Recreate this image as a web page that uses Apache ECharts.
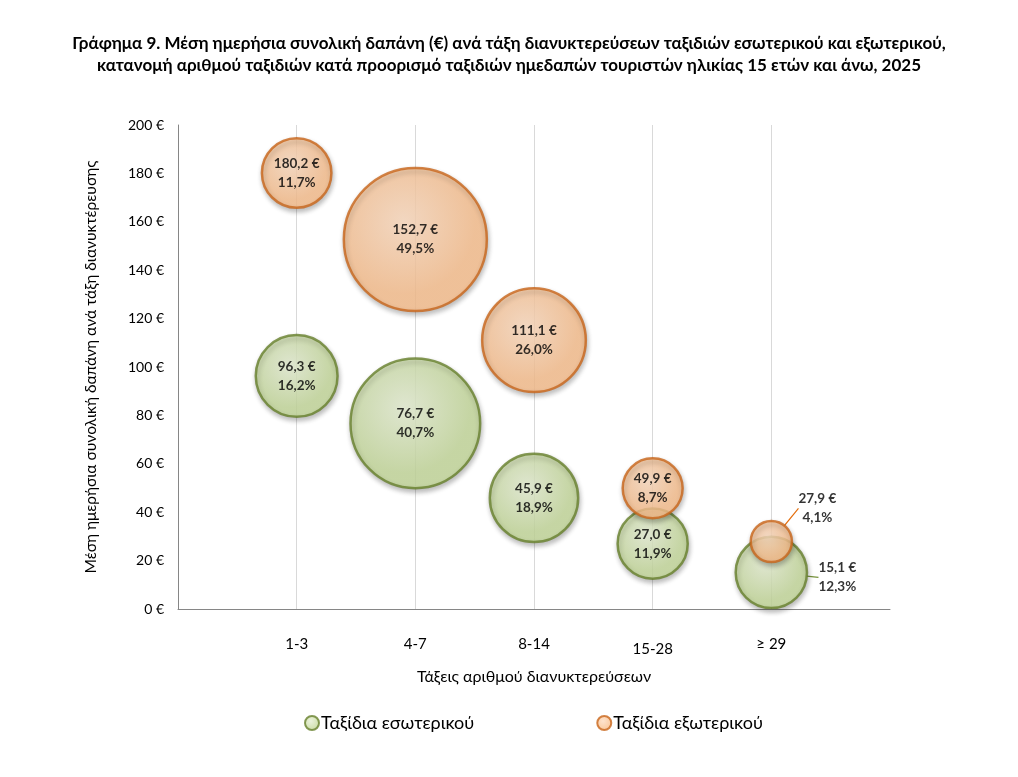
<!DOCTYPE html>
<html>
<head>
<meta charset="utf-8">
<script src="https://cdn.jsdelivr.net/npm/echarts@6/dist/echarts.min.js"></script>
<style>
  html, body { margin: 0; padding: 0; background: #fff; }
  #chart { width: 1018px; height: 777px; }
</style>
</head>
<body>
<div id="chart"></div>
<script>
// categories and values
var categories = ['1-3', '4-7', '8-14', '15-28', '≥ 29'];
var domesticSpend = [96.3, 76.7, 45.9, 27.0, 15.1];
var domesticShare = [16.2, 40.7, 18.9, 11.9, 12.3];
var abroadSpend = [180.2, 152.7, 111.1, 49.9, 27.9];
var abroadShare = [11.7, 49.5, 26.0, 8.7, 4.1];

var FONT = 'Lato';

function fmt(v) {
    return v.toFixed(1).replace('.', ',');
}

// bubble area follows the share
function bubbleSize(p) {
    return 143 * Math.sqrt(p / 49.5);
}

function buildData(spend, share, outside) {
    var out = [];
    for (var i = 0; i < spend.length; i++) {
        var item = { value: [i + 1, spend[i], share[i]] };
        if (outside[i]) {
            item.labelLine = { show: true };
        }
        out.push(item);
    }
    return out;
}

function fill(inner, outer) {
    return {
        type: 'radial', x: 0.42, y: 0.38, r: 0.62,
        colorStops: [{ offset: 0, color: inner }, { offset: 0.8, color: outer }, { offset: 1, color: outer }]
    };
}

// last bubble's label sits outside, with a leader line from the centre
function leader(dx, dy, bend) {
    return function (p) {
        if (p.dataIndex !== categories.length - 1) return;
        var cx = p.rect.x + p.rect.width / 2;
        var cy = p.rect.y + p.rect.height / 2;
        var lx = p.labelRect.x + dx - 3;
        var ly = p.labelRect.y + dy + p.labelRect.height / 2;
        return {
            dx: dx,
            dy: dy,
            labelLinePoints: bend
                ? [[cx, cy], [lx - 12, ly], [lx, ly]]
                : [[cx, cy], [lx - 1, ly + 1], [lx, ly + 1]]
        };
    };
}

var labelStyle = {
    show: true,
    position: 'inside',
    fontFamily: FONT,
    fontWeight: 'bold',
    fontSize: 13.5,
    lineHeight: 19,
    color: '#000',
    formatter: function (p) {
        return fmt(p.value[1]) + ' €\n' + fmt(p.value[2]) + '%';
    }
};

var xLabels = [''].concat(categories, ['']).map(function (c) {
    return c === '15-28' ? { value: c, textStyle: { padding: [5, 0, 0, 0] } } : c;
});

var chart = echarts.init(document.getElementById('chart'));

var option = {
    backgroundColor: '#fff',
    title: {
        text: 'Γράφημα 9. Μέση ημερήσια συνολική δαπάνη (€) ανά τάξη διανυκτερεύσεων ταξιδιών εσωτερικού και εξωτερικού,\nκατανομή αριθμού ταξιδιών κατά προορισμό ταξιδιών ημεδαπών τουριστών ηλικίας 15 ετών και άνω, 2025',
        left: 'center',
        top: 28,
        textStyle: { fontFamily: FONT, fontWeight: 'bold', fontSize: 17, lineHeight: 22, color: '#000' }
    },
    legend: {
        bottom: 40,
        left: 299,
        itemGap: 122,
        itemWidth: 14,
        itemHeight: 14,
        icon: 'circle',
        textStyle: { fontFamily: FONT, fontSize: 18, color: '#000', padding: [0, 0, 0, -3] },
        data: ['Ταξίδια εσωτερικού', 'Ταξίδια εξωτερικού']
    },
    grid: { left: 178, right: 128, top: 125, bottom: 168 },
    xAxis: {
        type: 'category',
        boundaryGap: false,
        data: xLabels,
        name: 'Τάξεις αριθμού διανυκτερεύσεων',
        nameLocation: 'middle',
        nameGap: 60,
        nameTextStyle: { fontFamily: FONT, fontSize: 16, color: '#000' },
        axisLine: { lineStyle: { color: '#868686', width: 1 } },
        axisTick: { show: false },
        axisLabel: { fontFamily: FONT, fontSize: 15, color: '#000', margin: 28 },
        splitLine: {
            show: true,
            interval: function (i) { return i > 0 && i <= categories.length; },
            lineStyle: { color: '#d9d9d9' }
        }
    },
    yAxis: {
        type: 'value',
        min: 0,
        max: 200,
        interval: 20,
        name: 'Μέση ημερήσια συνολική δαπάνη ανά τάξη διανυκτέρευσης',
        nameLocation: 'middle',
        nameGap: 79,
        nameTextStyle: { fontFamily: FONT, fontSize: 15.5, color: '#000' },
        axisLine: { show: true, lineStyle: { color: '#868686', width: 1 } },
        axisTick: { show: false },
        axisLabel: {
            fontFamily: FONT, fontSize: 14, color: '#000', margin: 14,
            formatter: function (v) { return v + ' €'; }
        },
        splitLine: { show: false }
    },
    series: [
        {
            name: 'Ταξίδια εσωτερικού',
            type: 'scatter',
            symbol: 'circle',
            data: buildData(domesticSpend, domesticShare, [0, 0, 0, 0, 1]),
            symbolSize: function (v) { return bubbleSize(v[2]); },
            itemStyle: {
                color: fill('#e6efd3', '#c6da9c'),
                borderColor: '#66802c',
                borderWidth: 2.5,
                shadowBlur: 5,
                shadowOffsetX: 1,
                shadowOffsetY: 3,
                shadowColor: 'rgba(0,0,0,0.3)'
            },
            label: labelStyle,
            labelLine: { show: false, lineStyle: { color: '#77933c', width: 1.2 } },
            labelLayout: leader(66, 5, false),
            emphasis: { disabled: true }
        },
        {
            name: 'Ταξίδια εξωτερικού',
            type: 'scatter',
            symbol: 'circle',
            data: buildData(abroadSpend, abroadShare, [0, 0, 0, 0, 1]),
            symbolSize: function (v) { return bubbleSize(v[2]); },
            itemStyle: {
                color: fill('#fedcc0', '#fac08e'),
                borderColor: '#c8651a',
                borderWidth: 2.5,
                shadowBlur: 5,
                shadowOffsetX: 1,
                shadowOffsetY: 3,
                shadowColor: 'rgba(0,0,0,0.3)'
            },
            label: labelStyle,
            labelLine: { show: false, lineStyle: { color: '#e46c0a', width: 1.2 } },
            labelLayout: leader(46, -33, true),
            emphasis: { disabled: true }
        }
    ]
};

chart.setOption(option);
</script>
</body>
</html>
